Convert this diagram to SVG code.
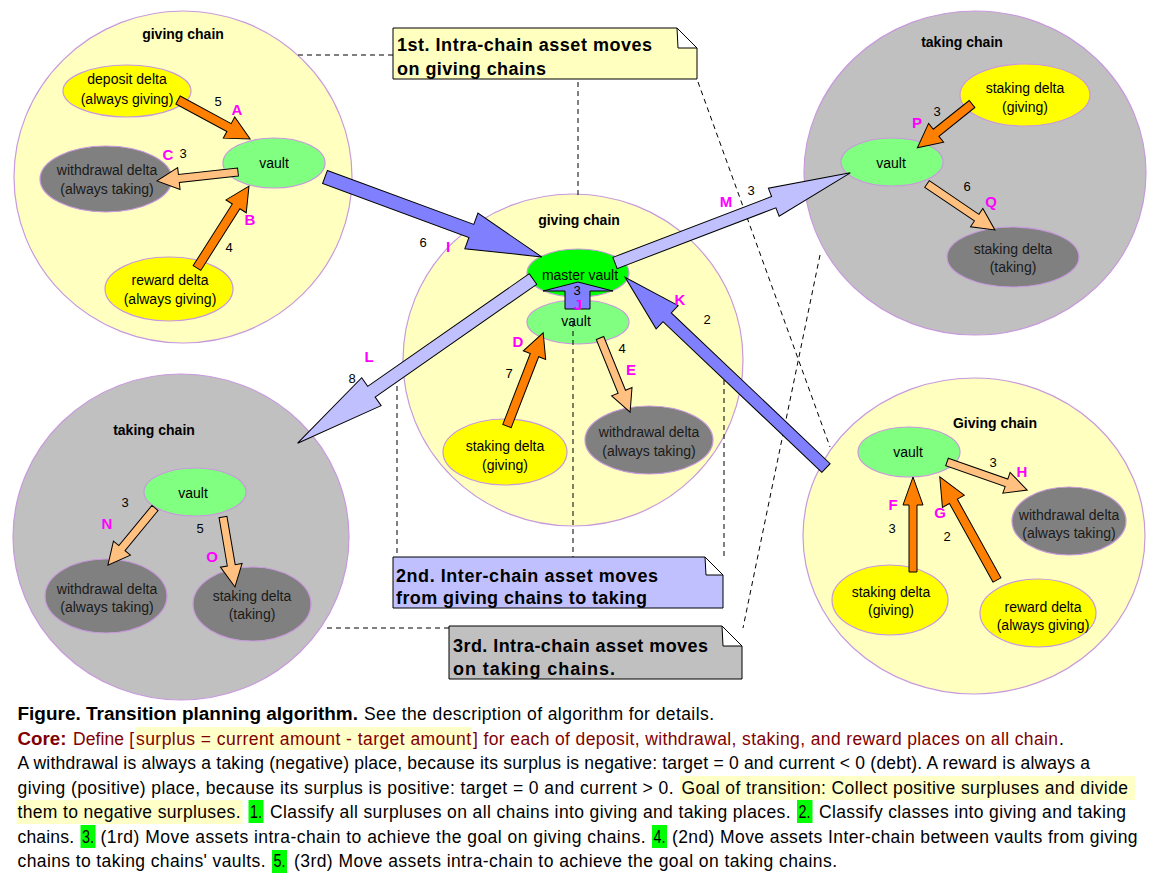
<svg xmlns="http://www.w3.org/2000/svg" width="1161" height="882" viewBox="0 0 1161 882">
<style>
text{font-family:"Liberation Sans",Arial,sans-serif}
.chainG{fill:#ffffc0;stroke:#c899dc;stroke-width:1.2}
.chainT{fill:#c0c0c0;stroke:#c899dc;stroke-width:1.2}
.ny{fill:#ffff00;stroke:#c899dc;stroke-width:1.2}
.ng{fill:#808080;stroke:#c899dc;stroke-width:1.2}
.nv{fill:#80ff80;stroke:#c899dc;stroke-width:1.2}
.nm{fill:#00ff00;stroke:#c899dc;stroke-width:1.2}
.title{font-size:14px;font-weight:bold;text-anchor:middle;fill:#000}
.nt{font-size:14px;text-anchor:middle;fill:#000}
.ntg{font-size:14px;text-anchor:middle;fill:#1a1a1a}
.ao{fill:#ff8000;stroke:#000;stroke-width:1}
.al{fill:#ffc080;stroke:#000;stroke-width:1}
.ab{fill:#8080ff;stroke:#000;stroke-width:1}
.ac{fill:#c0c0ff;stroke:#000;stroke-width:1}
.lm{font-size:15px;font-weight:bold;fill:#ff00ff;text-anchor:middle}
.ln{font-size:13px;fill:#000;text-anchor:middle}
.dash{fill:none;stroke:#000;stroke-width:1;stroke-dasharray:5,4}
.note{stroke:#000;stroke-width:1}
.fold{fill:#ffffff;stroke:#000;stroke-width:1}
.noteT{font-size:18px;font-weight:bold;fill:#000}
.cap{font-size:17.5px;fill:#000}
.capb{font-size:17.5px;font-weight:bold;fill:#000}
.core{fill:#800000}
.hl{fill:#ffffc8}
.gr{fill:#00ff00}
</style>

<!-- Chains -->
<g id="chain-tl"><ellipse class="chainG" cx="183" cy="177" rx="169" ry="166"/><text class="title" x="183" y="39">giving chain</text></g>
<g id="chain-center"><ellipse class="chainG" cx="573" cy="360" rx="170" ry="166"/><text class="title" x="579" y="225">giving chain</text></g>
<g id="chain-tr"><ellipse class="chainT" cx="975" cy="173" rx="171" ry="162"/><text class="title" x="962" y="47">taking chain</text></g>
<g id="chain-bl"><ellipse class="chainT" cx="181" cy="537" rx="168" ry="163"/><text class="title" x="154" y="435">taking chain</text></g>
<g id="chain-br"><ellipse class="chainG" cx="974" cy="536" rx="171" ry="158"/><text class="title" x="995" y="428">Giving chain</text></g>

<!-- Nodes: top-left -->
<g id="tl-deposit"><ellipse class="ny" cx="127" cy="91" rx="64" ry="26"/><text class="nt" x="127" y="84">deposit delta</text><text class="nt" x="127" y="104">(always giving)</text></g>
<g id="tl-withdrawal"><ellipse class="ng" cx="106" cy="179" rx="66" ry="33"/><text class="ntg" x="107" y="175">withdrawal delta</text><text class="ntg" x="107" y="194">(always taking)</text></g>
<g id="tl-vault"><ellipse class="nv" cx="274" cy="163" rx="51" ry="25"/><text class="nt" x="274" y="168">vault</text></g>
<g id="tl-reward"><ellipse class="ny" cx="169" cy="289" rx="64" ry="32"/><text class="nt" x="170" y="285">reward delta</text><text class="nt" x="170" y="304">(always giving)</text></g>

<!-- Nodes: center -->
<g id="c-master"><ellipse class="nm" cx="578" cy="273" rx="51" ry="24"/><text class="nt" x="580" y="280">master vault</text></g>
<g id="c-vault"><ellipse class="nv" cx="578" cy="322" rx="51" ry="22"/><text class="nt" x="576" y="326">vault</text></g>
<g id="c-staking"><ellipse class="ny" cx="505" cy="452" rx="62" ry="33"/><text class="nt" x="505" y="451">staking delta</text><text class="nt" x="505" y="470">(giving)</text></g>
<g id="c-withdrawal"><ellipse class="ng" cx="649" cy="440" rx="64" ry="34"/><text class="ntg" x="649" y="437">withdrawal delta</text><text class="ntg" x="649" y="456">(always taking)</text></g>

<!-- Nodes: top-right -->
<g id="tr-staking-giving"><ellipse class="ny" cx="1025" cy="95" rx="65" ry="31"/><text class="nt" x="1025" y="93">staking delta</text><text class="nt" x="1025" y="112">(giving)</text></g>
<g id="tr-vault"><ellipse class="nv" cx="892" cy="162" rx="51" ry="24"/><text class="nt" x="891" y="168">vault</text></g>
<g id="tr-staking-taking"><ellipse class="ng" cx="1013" cy="257" rx="66" ry="30"/><text class="ntg" x="1013" y="254">staking delta</text><text class="ntg" x="1013" y="272">(taking)</text></g>

<!-- Nodes: bottom-left -->
<g id="bl-vault"><ellipse class="nv" cx="195" cy="492" rx="51" ry="24"/><text class="nt" x="193" y="498">vault</text></g>
<g id="bl-withdrawal"><ellipse class="ng" cx="106" cy="596" rx="61" ry="37"/><text class="ntg" x="107" y="594">withdrawal delta</text><text class="ntg" x="107" y="612">(always taking)</text></g>
<g id="bl-staking-taking"><ellipse class="ng" cx="252" cy="604" rx="59" ry="37"/><text class="ntg" x="252" y="601">staking delta</text><text class="ntg" x="252" y="619">(taking)</text></g>

<!-- Nodes: bottom-right -->
<g id="br-vault"><ellipse class="nv" cx="909" cy="452" rx="51" ry="25"/><text class="nt" x="908" y="457">vault</text></g>
<g id="br-withdrawal"><ellipse class="ng" cx="1069" cy="521" rx="57" ry="34"/><text class="ntg" x="1069" y="520">withdrawal delta</text><text class="ntg" x="1069" y="538">(always taking)</text></g>
<g id="br-staking-giving"><ellipse class="ny" cx="890" cy="600" rx="58" ry="35"/><text class="nt" x="891" y="597">staking delta</text><text class="nt" x="891" y="615">(giving)</text></g>
<g id="br-reward"><ellipse class="ny" cx="1038" cy="613" rx="58" ry="34"/><text class="nt" x="1043" y="612">reward delta</text><text class="nt" x="1043" y="630">(always giving)</text></g>

<!-- Notes -->
<g id="note-1"><polygon class="note" fill="#ffffc0" points="393,28 677,28 697,48 697,79 393,79"/><polygon class="fold" points="677,28 678,48 697,48"/><text class="noteT" x="397" y="51" textLength="255" lengthAdjust="spacing">1st. Intra-chain asset moves</text><text class="noteT" x="397" y="75" textLength="149" lengthAdjust="spacing">on giving chains</text></g>
<g id="note-2"><polygon class="note" fill="#c0c0ff" points="393,557 705,557 723,575 723,608 393,608"/><polygon class="fold" points="705,557 706,575 723,575"/><text class="noteT" x="396" y="582" textLength="262" lengthAdjust="spacing">2nd. Inter-chain asset moves</text><text class="noteT" x="396" y="604" textLength="251" lengthAdjust="spacing">from giving chains to taking</text></g>
<g id="note-3"><polygon class="note" fill="#c0c0c0" points="449,626 722,626 742,646 742,679 449,679"/><polygon class="fold" points="722,626 723,646 742,646"/><text class="noteT" x="453" y="652" textLength="255" lengthAdjust="spacing">3rd. Intra-chain asset moves</text><text class="noteT" x="453" y="675" textLength="162" lengthAdjust="spacing">on taking chains.</text></g>

<!-- Connectors -->
<g id="connectors">
  <line class="dash" x1="393" y1="55" x2="298" y2="55"/>
  <line class="dash" x1="578" y1="82" x2="578" y2="196"/>
  <line class="dash" x1="573" y1="322" x2="573" y2="557"/>
  <line class="dash" x1="397" y1="386" x2="397" y2="557"/>
  <line class="dash" x1="724" y1="380" x2="724" y2="557"/>
  <line class="dash" x1="698" y1="82" x2="830" y2="447"/>
  <line class="dash" x1="820" y1="255" x2="743" y2="628"/>
  <line class="dash" x1="449" y1="628" x2="323" y2="628"/>

  <polygon class="ao" transform="translate(178,100) rotate(28.4)" points="0,-4.5 58,-4.5 58,-12 82,0 58,12 58,4.5 0,4.5"/>
  <polygon class="ao" transform="translate(197,268) rotate(-57.6)" points="0,-4.5 73,-4.5 73,-12 97,0 73,12 73,4.5 0,4.5"/>
  <polygon class="al" transform="translate(238,172) rotate(173.7)" points="0,-4 59.5,-4 59.5,-11 81.5,0 59.5,11 59.5,4 0,4"/>
  <polygon class="ao" transform="translate(507,426) rotate(-68.8)" points="0,-4.5 76,-4.5 76,-12 100,0 76,12 76,4.5 0,4.5"/>
  <polygon class="al" transform="translate(600,338) rotate(67.9)" points="0,-4 58,-4 58,-11 80,0 58,11 58,4 0,4"/>
  <polygon class="ao" transform="translate(913,572) rotate(-90)" points="0,-4 67,-4 67,-10 95,0 67,10 67,4 0,4"/>
  <polygon class="ao" transform="translate(997,580) rotate(241)" points="0,-4.5 90,-4.5 90,-12.5 118,0 90,12.5 90,4.5 0,4.5"/>
  <polygon class="al" transform="translate(947,462) rotate(19.3)" points="0,-4 63,-4 63,-11 85,0 63,11 63,4 0,4"/>
  <polygon class="ao" transform="translate(972,104) rotate(141.3)" points="0,-4.5 46,-4.5 46,-12 70,0 46,12 46,4.5 0,4.5"/>
  <polygon class="al" transform="translate(927,184) rotate(34.1)" points="0,-4 60,-4 60,-11 82,0 60,11 60,4 0,4"/>
  <polygon class="al" transform="translate(155,508) rotate(129.5)" points="0,-4 52,-4 52,-11 74,0 52,11 52,4 0,4"/>
  <polygon class="al" transform="translate(223,517) rotate(80.3)" points="0,-4 49,-4 49,-11 71,0 49,11 49,4 0,4"/>

  <polygon class="ab" transform="translate(325,177) rotate(20.24)" points="0,-7 156,-7 156,-19 231,0 156,19 156,7 0,7"/>
  <polygon class="ab" transform="translate(826,468) rotate(223.5)" points="0,-6 219,-6 219,-16 277,0 219,16 219,6 0,6"/>
  <polygon class="ac" transform="translate(615,263) rotate(-20.96)" points="0,-6 170,-6 170,-15 252,0 170,15 170,6 0,6"/>
  <polygon class="ac" transform="translate(533,279) rotate(145.1)" points="0,-6.5 197,-6.5 197,-17 287,0 197,17 197,6.5 0,6.5"/>
  <polygon class="ab" points="565,309 590,309 590,291 613,291 578,282 543,291 565,291"/>

  <text class="ln" x="218" y="106">5</text><text class="lm" x="237" y="115">A</text>
  <text class="lm" x="168" y="160">C</text><text class="ln" x="183" y="158">3</text>
  <text class="lm" x="250" y="225">B</text><text class="ln" x="229" y="252">4</text>
  <text class="ln" x="423" y="247">6</text><text class="lm" x="448" y="252">I</text>
  <text class="lm" x="726" y="207">M</text><text class="ln" x="751" y="195">3</text>
  <text class="lm" x="680" y="305">K</text><text class="ln" x="707" y="324">2</text>
  <text class="lm" x="518" y="347">D</text><text class="ln" x="509" y="378">7</text>
  <text class="ln" x="622" y="353">4</text><text class="lm" x="631" y="375">E</text>
  <text class="ln" x="577" y="295">3</text><text class="lm" x="578" y="310">J</text>
  <text class="lm" x="369" y="362">L</text><text class="ln" x="352" y="383">8</text>
  <text class="ln" x="937" y="116">3</text><text class="lm" x="917" y="128">P</text>
  <text class="ln" x="967" y="191">6</text><text class="lm" x="991" y="207">Q</text>
  <text class="ln" x="125" y="507">3</text><text class="lm" x="107" y="529">N</text>
  <text class="ln" x="200" y="533">5</text><text class="lm" x="212" y="562">O</text>
  <text class="ln" x="993" y="467">3</text><text class="lm" x="1022" y="477">H</text>
  <text class="lm" x="893" y="510">F</text><text class="ln" x="892" y="533">3</text>
  <text class="lm" x="940" y="518">G</text><text class="ln" x="947" y="541">2</text>
</g>

<!-- Caption -->
<g id="caption">
  <rect class="hl" x="135" y="727" width="337" height="23"/>
  <rect class="hl" x="680" y="776" width="455" height="24"/>
  <rect class="hl" x="16.5" y="800" width="226" height="24"/>
  <rect class="gr" x="248.5" y="800" width="15" height="23"/>
  <rect class="gr" x="797" y="800" width="15.5" height="23"/>
  <rect class="gr" x="80.5" y="825" width="15" height="23"/>
  <rect class="gr" x="652" y="825" width="15" height="23"/>
  <rect class="gr" x="272" y="850" width="15" height="23"/>

  <text class="capb" x="17.5" y="720" textLength="340.5" lengthAdjust="spacingAndGlyphs">Figure. Transition planning algorithm.</text>
  <text class="cap" x="364" y="720" textLength="350" lengthAdjust="spacing">See the description of algorithm for details.</text>

  <text class="capb core" x="17.5" y="744.5" textLength="49" lengthAdjust="spacingAndGlyphs">Core:</text>
  <text class="cap core" x="73" y="744.5" textLength="61" lengthAdjust="spacing">Define [</text>
  <text class="cap core" x="136" y="744.5" textLength="335" lengthAdjust="spacing">surplus = current amount - target amount</text>
  <text class="cap core" x="473" y="744.5" textLength="585" lengthAdjust="spacing">] for each of deposit, withdrawal, staking, and reward places on all chain</text>
  <text class="cap" x="1059" y="744.5">.</text>

  <text class="cap" x="17.5" y="769" textLength="1072.5" lengthAdjust="spacing">A withdrawal is always a taking (negative) place, because its surplus is negative: target = 0 and current &lt; 0 (debt). A reward is always a</text>

  <text class="cap" x="17.5" y="793.5" textLength="656" lengthAdjust="spacing">giving (positive) place, because its surplus is positive: target = 0 and current &gt; 0.</text>
  <text class="cap" x="681.5" y="793.5" textLength="446.5" lengthAdjust="spacing">Goal of transition: Collect positive surpluses and divide</text>

  <text class="cap" x="17.5" y="818" textLength="223" lengthAdjust="spacing">them to negative surpluses.</text>
  <text class="cap" x="250" y="818" textLength="12" lengthAdjust="spacingAndGlyphs">1.</text>
  <text class="cap" x="270" y="818" textLength="520.5" lengthAdjust="spacing">Classify all surpluses on all chains into giving and taking places.</text>
  <text class="cap" x="798.5" y="818" textLength="12" lengthAdjust="spacingAndGlyphs">2.</text>
  <text class="cap" x="819" y="818" textLength="307" lengthAdjust="spacing">Classify classes into giving and taking</text>

  <text class="cap" x="17.5" y="842.5" textLength="56.5" lengthAdjust="spacing">chains.</text>
  <text class="cap" x="82" y="842.5" textLength="12" lengthAdjust="spacingAndGlyphs">3.</text>
  <text class="cap" x="100.5" y="842.5" textLength="545" lengthAdjust="spacing">(1rd) Move assets intra-chain to achieve the goal on giving chains.</text>
  <text class="cap" x="653.5" y="842.5" textLength="12" lengthAdjust="spacingAndGlyphs">4.</text>
  <text class="cap" x="672" y="842.5" textLength="465.5" lengthAdjust="spacing">(2nd) Move assets Inter-chain between vaults from giving</text>

  <text class="cap" x="17.5" y="867" textLength="248" lengthAdjust="spacing">chains to taking chains' vaults.</text>
  <text class="cap" x="273.5" y="867" textLength="12" lengthAdjust="spacingAndGlyphs">5.</text>
  <text class="cap" x="294" y="867" textLength="543" lengthAdjust="spacing">(3rd) Move assets intra-chain to achieve the goal on taking chains.</text>
</g>
</svg>
